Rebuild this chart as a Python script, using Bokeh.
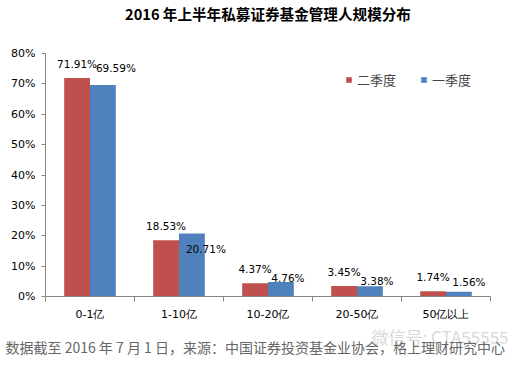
from bokeh.plotting import figure
from bokeh.models import (ColumnDataSource, FixedTicker, CustomJSTickFormatter, Range1d,
                          LabelSet, Legend, LegendItem, Title)
from bokeh.core.properties import value
from bokeh.embed import file_html
from bokeh.resources import INLINE

# ---- data ----
categories = ["0-1亿", "1-10亿", "10-20亿", "20-50亿", "50亿以上"]
q2_values = [71.91, 18.53, 4.37, 3.45, 1.74]   # 二季度
q1_values = [69.59, 20.71, 4.76, 3.38, 1.56]   # 一季度
series_names = ["二季度", "一季度"]
y_ticks = [0, 10, 20, 30, 40, 50, 60, 70, 80]
title_text = "2016 年上半年私募证券基金管理人规模分布"
source_text = "数据截至 2016 年 7 月 1 日，来源：中国证券投资基金业协会，格上理财研究中心"
watermark_text = "微信号: CTA55555"

# ---- styles ----
RED = "#C0504D"
BLUE = "#4F81BD"
AXIS = "#868686"
BAR_W = 0.29
blue_dx = [13, 14, 7, 7, 10]        # label nudges (px) like the original
blue_dy = [17, -15, 4, 5, 10]
LAT = "DejaVu Sans"
CJK = "Noto Sans CJK SC"

n = len(categories)
x_red = [i + 0.5 - BAR_W / 2 for i in range(n)]
x_blue = [i + 0.5 + BAR_W / 2 for i in range(n)]

src_red = ColumnDataSource(dict(x=x_red, y=q2_values,
                                lab=[f"{v:.2f}%" for v in q2_values]))
src_blue = ColumnDataSource(dict(x=x_blue, y=q1_values,
                                 lab=[f"{v:.2f}%" for v in q1_values],
                                 dx=blue_dx, dy=blue_dy))

p = figure(width=519, height=366, output_backend="svg", toolbar_location=None,
           x_range=Range1d(0, n), y_range=Range1d(0, y_ticks[-1]),
           min_border_left=45, min_border_right=29, min_border_top=53,
           min_border_bottom=70)
p.outline_line_color = None
p.xgrid.visible = False
p.ygrid.visible = False

r_red = p.vbar(x="x", top="y", width=BAR_W, source=src_red, fill_color=RED, line_color=None)
r_blue = p.vbar(x="x", top="y", width=BAR_W, source=src_blue, fill_color=BLUE, line_color=None)

# axes
p.yaxis.ticker = FixedTicker(ticks=y_ticks, minor_ticks=[])
p.yaxis.formatter = CustomJSTickFormatter(code="return tick + '%';")
p.yaxis.axis_line_color = AXIS
p.yaxis.major_tick_line_color = AXIS
p.yaxis.major_tick_out = 4
p.yaxis.major_tick_in = 0
p.yaxis.minor_tick_line_color = None
p.yaxis.major_label_standoff = 6
p.yaxis.major_label_text_font = LAT
p.yaxis.major_label_text_font_size = "11px"
p.yaxis.major_label_text_color = "#000000"

p.xaxis.ticker = FixedTicker(ticks=[i + 0.5 for i in range(n)],
                             minor_ticks=[i for i in range(n + 1)])
p.xaxis.formatter = CustomJSTickFormatter(args=dict(labels=categories),
                                          code="return labels[Math.round(tick - 0.5)];")
p.xaxis.axis_line_color = AXIS
p.xaxis.major_tick_line_color = None
p.xaxis.major_tick_out = 0
p.xaxis.major_tick_in = 0
p.xaxis.minor_tick_line_color = AXIS
p.xaxis.minor_tick_out = 5
p.xaxis.minor_tick_in = 0
p.xaxis.major_label_standoff = 6
p.xaxis.major_label_text_font = LAT
p.xaxis.major_label_text_font_size = "11px"
p.xaxis.major_label_text_color = "#000000"

# data labels
p.add_layout(LabelSet(x="x", y="y", text="lab", source=src_red, text_align="center",
                      text_baseline="middle", y_offset=14, text_font=value(LAT),
                      text_font_size=value("10.5px"), text_color="#000000"))
p.add_layout(LabelSet(x="x", y="y", text="lab", source=src_blue, text_align="center",
                      text_baseline="middle", x_offset="dx", y_offset="dy",
                      text_font=value(LAT), text_font_size=value("10.5px"),
                      text_color="#000000"))

# legend
legend = Legend(items=[LegendItem(label=series_names[0], renderers=[r_red]),
                       LegendItem(label=series_names[1], renderers=[r_blue])],
                orientation="horizontal", location=(300, 207),
                glyph_width=7, glyph_height=7, label_standoff=5, spacing=24,
                padding=0, margin=0, label_height=14,
                label_text_font=CJK, label_text_font_size="13px",
                border_line_color=None, background_fill_alpha=0)
p.add_layout(legend)

# spacer between frame and title, then the title itself
p.add_layout(Title(text=" ", text_font_size="1px", standoff=25), "above")
p.add_layout(Title(text=title_text, align="center", offset=-16, standoff=0,
                   vertical_align="top",
                   text_font=CJK, text_font_style="bold", text_font_size="14.6px",
                   text_color="#000000"), "above")

# watermark and footer below the axis
p.add_layout(Title(text=watermark_text, align="right", offset=-18, standoff=-51,
                   text_font=CJK, text_font_style="normal", text_font_size="17px",
                   text_color="#d9d9d9"), "below")
p.add_layout(Title(text=source_text, align="left", offset=-40, standoff=-66,
                   text_font=CJK, text_font_style="normal", text_font_size="14px",
                   text_color="#666666"), "below")

open("out.html", "w").write(file_html(p, INLINE))
